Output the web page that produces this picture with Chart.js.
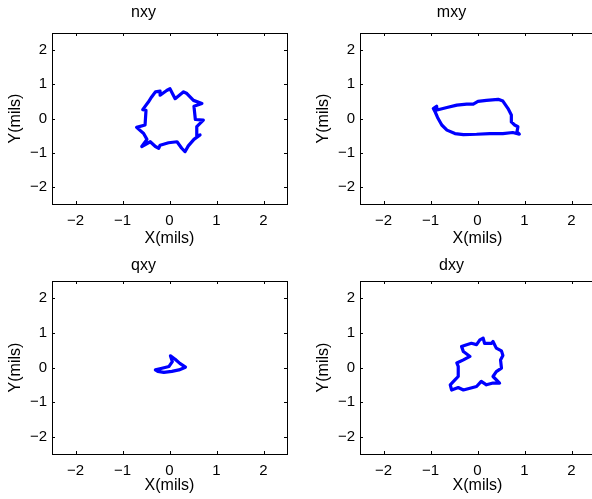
<!DOCTYPE html>
<html>
<head>
<meta charset="utf-8">
<script src="https://cdn.jsdelivr.net/npm/chart.js@4.4.1/dist/chart.umd.min.js"></script>
<style>
  html, body { margin: 0; padding: 0; background: #fff; overflow: hidden; width: 592px; height: 499px; }
  canvas { position: absolute; }
</style>
</head>
<body>
<canvas id="nxyChart" width="296" height="250" style="left:0px;top:0px"></canvas>
<canvas id="mxyChart" width="296" height="250" style="left:308px;top:0px"></canvas>
<canvas id="qxyChart" width="296" height="249" style="left:0px;top:250px"></canvas>
<canvas id="dxyChart" width="296" height="249" style="left:308px;top:250px"></canvas>
<script>
const axisTicks = [-2, -1, 0, 1, 2];

const nxyX = [0.01, 0.12, 0.30, 0.37, 0.51, 0.69, 0.52, 0.55, 0.72, 0.58, 0.58, 0.65, 0.52, 0.40, 0.33, 0.26, 0.16, -0.02, -0.20, -0.23, -0.30, -0.41, -0.59, -0.48, -0.55, -0.70, -0.52, -0.50, -0.57, -0.45, -0.38, -0.30, -0.20, -0.20, -0.06, 0.01];
const nxyY = [0.87, 0.58, 0.78, 0.73, 0.53, 0.44, 0.36, -0.03, -0.05, -0.24, -0.51, -0.48, -0.61, -0.80, -0.97, -0.87, -0.68, -0.71, -0.78, -0.87, -0.82, -0.68, -0.82, -0.61, -0.44, -0.26, -0.19, 0.24, 0.26, 0.48, 0.63, 0.78, 0.80, 0.68, 0.82, 0.87];

const mxyX = [-0.94, -0.87, -0.86, -0.65, -0.44, -0.23, -0.09, 0.01, 0.19, 0.44, 0.54, 0.65, 0.72, 0.72, 0.79, 0.86, 0.84, 0.89, 0.75, 0.54, 0.26, -0.02, -0.30, -0.48, -0.65, -0.76, -0.85, -0.90, -0.94];
const mxyY = [0.29, 0.36, 0.25, 0.32, 0.39, 0.42, 0.42, 0.50, 0.53, 0.56, 0.51, 0.29, 0.10, -0.10, -0.19, -0.24, -0.39, -0.46, -0.41, -0.44, -0.44, -0.46, -0.47, -0.44, -0.34, -0.19, 0.03, 0.19, 0.29];

const qxyX = [-0.30, -0.16, -0.01, 0.06, 0.02, 0.12, 0.22, 0.34, 0.20, 0.05, -0.12, -0.25, -0.30];
const qxyY = [-0.07, -0.02, 0.03, 0.17, 0.34, 0.24, 0.12, 0.01, -0.07, -0.11, -0.14, -0.11, -0.07];

const dxyX = [0.12, 0.15, 0.30, 0.33, 0.40, 0.51, 0.54, 0.49, 0.51, 0.40, 0.33, 0.47, 0.33, 0.19, 0.08, -0.02, -0.30, -0.41, -0.55, -0.58, -0.48, -0.41, -0.41, -0.44, -0.30, -0.16, -0.30, -0.34, -0.23, -0.13, -0.02, 0.05, 0.12];
const dxyY = [0.85, 0.70, 0.70, 0.75, 0.56, 0.48, 0.35, 0.22, -0.02, -0.12, -0.26, -0.45, -0.45, -0.50, -0.40, -0.55, -0.65, -0.58, -0.65, -0.50, -0.36, -0.26, 0.03, 0.13, 0.22, 0.32, 0.46, 0.61, 0.66, 0.70, 0.66, 0.80, 0.85];

const fontFamily = "'Liberation Sans', Arial, sans-serif";

// box round the plot area with small inward tick marks, matlab style
const boxPlugin = {
    id: 'box',
    afterDraw(chart) {
        const ctx = chart.ctx;
        const a = chart.chartArea;
        const xs = chart.scales.x;
        const ys = chart.scales.y;
        ctx.save();
        ctx.strokeStyle = '#000';
        ctx.lineWidth = 1;
        ctx.strokeRect(Math.round(a.left) + 0.5, Math.round(a.top) + 0.5, Math.round(a.right - a.left), Math.round(a.bottom - a.top));
        ctx.beginPath();
        axisTicks.forEach(v => {
            const px = Math.round(xs.getPixelForValue(v)) + 0.5;
            ctx.moveTo(px, a.bottom); ctx.lineTo(px, a.bottom - 3);
            ctx.moveTo(px, a.top); ctx.lineTo(px, a.top + 3);
            const py = Math.round(ys.getPixelForValue(v)) + 0.5;
            ctx.moveTo(a.left, py); ctx.lineTo(a.left + 3, py);
            ctx.moveTo(a.right, py); ctx.lineTo(a.right - 3, py);
        });
        ctx.stroke();
        ctx.restore();
    }
};

const makePanel = (id, title, xs, ys, cfg) => {
    const ctx = document.getElementById(id).getContext('2d');
    const points = xs.map((x, i) => ({ x: x, y: ys[i] }));
    const tickLabel = v => String(v).replace('-', '\u2212');
    return new Chart(ctx, {
        type: 'scatter',
        data: {
            datasets: [{
                data: points,
                showLine: true,
                borderColor: '#0000ff',
                backgroundColor: '#0000ff',
                borderWidth: 3.2,
                borderJoinStyle: 'round',
                borderCapStyle: 'round',
                pointRadius: 0,
                tension: 0
            }]
        },
        options: {
            responsive: false,
            animation: false,
            layout: { padding: { left: 0, right: 9, top: 0, bottom: 0 } },
            plugins: {
                legend: { display: false },
                tooltip: { enabled: false },
                title: {
                    display: true,
                    text: title,
                    color: '#000',
                    font: { family: fontFamily, size: 16, weight: 'normal' },
                    padding: { top: cfg.titleTop, bottom: cfg.titleBottom }
                }
            },
            scales: {
                x: {
                    type: 'linear',
                    min: -2.5,
                    max: 2.5,
                    grid: { display: false, drawTicks: false },
                    border: { display: false },
                    afterBuildTicks: s => { s.ticks = axisTicks.map(v => ({ value: v })); },
                    afterFit: s => { s.height = cfg.xHeight; },
                    ticks: {
                        padding: 8,
                        color: '#000',
                        font: { family: fontFamily, size: 15 },
                        maxRotation: 0,
                        callback: tickLabel
                    },
                    title: {
                        display: true,
                        text: 'X(mils)',
                        color: '#000',
                        font: { family: fontFamily, size: 16 },
                        padding: { top: 0, bottom: cfg.xTitleBottom }
                    }
                },
                y: {
                    type: 'linear',
                    min: -2.5,
                    max: 2.5,
                    grid: { display: false, drawTicks: false },
                    border: { display: false },
                    afterBuildTicks: s => { s.ticks = axisTicks.map(v => ({ value: v })); },
                    afterFit: s => { s.width = 52; },
                    ticks: {
                        padding: 5,
                        color: '#000',
                        font: { family: fontFamily, size: 15 },
                        callback: tickLabel
                    },
                    title: {
                        display: true,
                        text: 'Y(mils)',
                        color: '#000',
                        font: { family: fontFamily, size: 16 },
                        padding: { top: 6, bottom: 0 }
                    }
                }
            }
        },
        plugins: [boxPlugin]
    });
};

const topCfg = { titleTop: 3.4, titleBottom: 10.4, xHeight: 46, xTitleBottom: 2 };
const bottomCfg = { titleTop: 6.4, titleBottom: 5.4, xHeight: 45, xTitleBottom: 4 };

makePanel('nxyChart', 'nxy', nxyX, nxyY, topCfg);
makePanel('mxyChart', 'mxy', mxyX, mxyY, topCfg);
makePanel('qxyChart', 'qxy', qxyX, qxyY, bottomCfg);
makePanel('dxyChart', 'dxy', dxyX, dxyY, bottomCfg);
</script>
</body>
</html>
